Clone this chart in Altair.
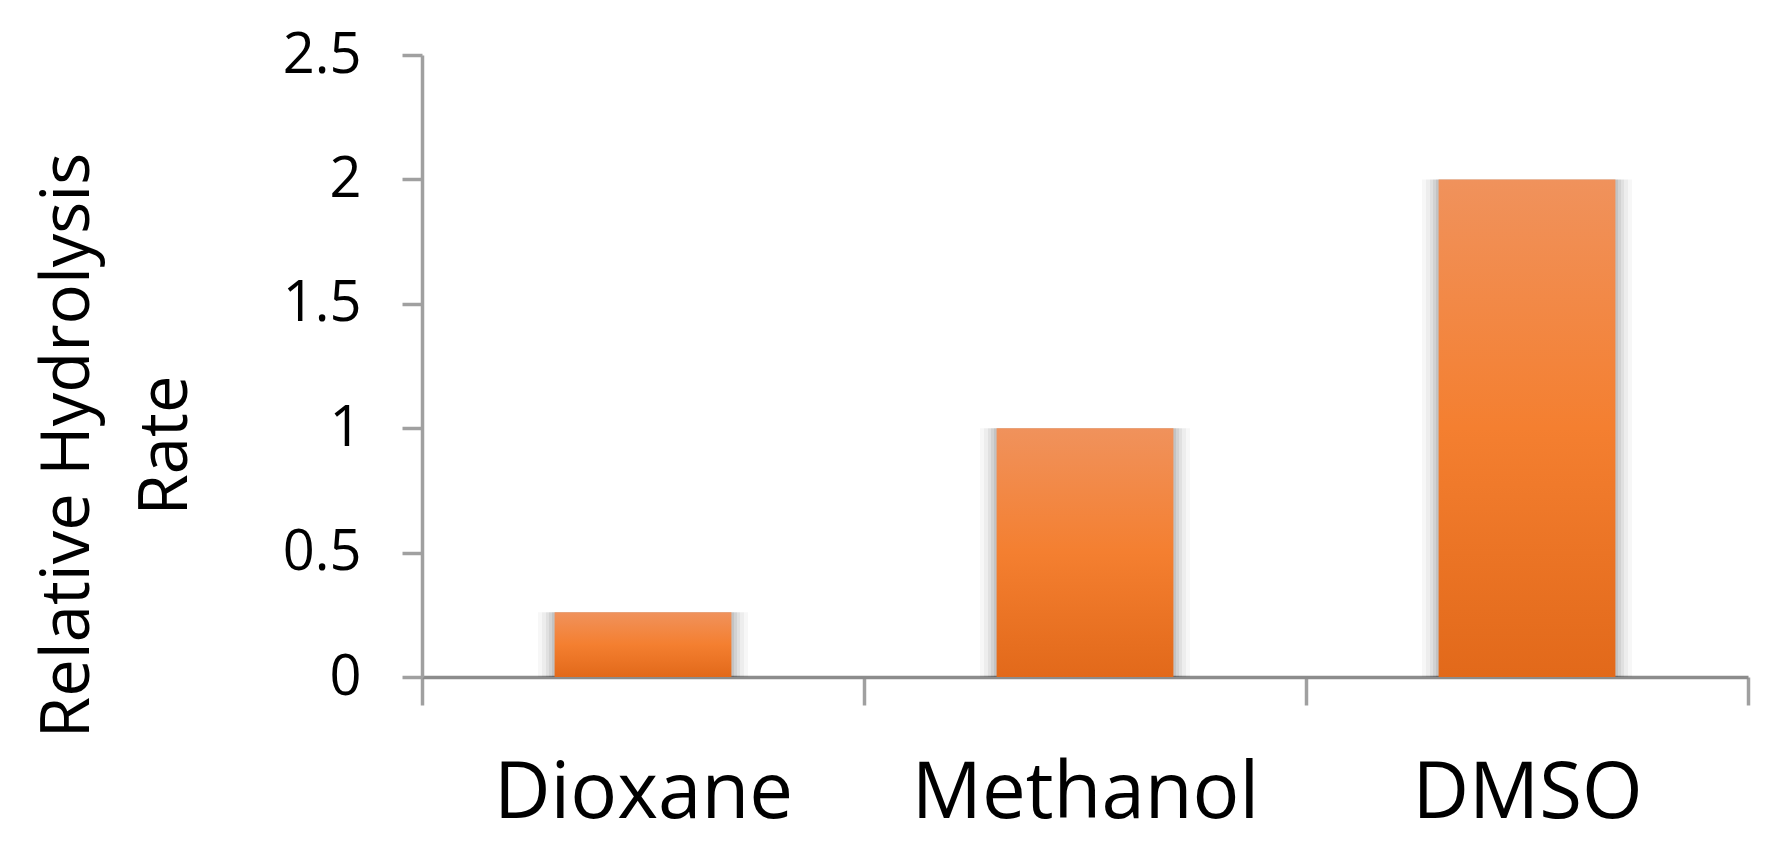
import altair as alt
import pandas as pd

categories = ["Dioxane", "Methanol", "DMSO"]
values = [0.26, 1.0, 2.0]
y_ticks = [0, 0.5, 1, 1.5, 2, 2.5]

df = pd.DataFrame({"solvent": categories, "rate": values})

FONT = "Open Sans"

x_enc = alt.X(
    "solvent:N",
    sort=categories,
    scale=alt.Scale(paddingInner=0, paddingOuter=0),
    axis=alt.Axis(
        title=None,
        labelAngle=0,
        labelFontSize=78,
        labelFont=FONT,
        labelColor="#000000",
        labelPadding=50,
        labelLimit=0,
        tickBand="extent",
        tickSize=28,
        tickWidth=3.5,
        tickColor="#a0a0a0",
        domainColor="#8c8c8c",
        domainWidth=3.5,
        grid=False,
    ),
)

y_enc = alt.Y(
    "rate:Q",
    scale=alt.Scale(domain=[0, 2.5], nice=False),
    axis=alt.Axis(
        values=y_ticks,
        format=".1~f",
        title=["Relative Hydrolysis", "Rate"],
        titleFont=FONT,
        titleFontSize=67,
        titleFontWeight="normal",
        titleColor="#000000",
        titleAngle=270,
        titleAlign="center",
        titleBaseline="middle",
        titleLineHeight=98,
        titleX=-354,
        titleY=390,
        labelFont=FONT,
        labelFontSize=56,
        labelColor="#000000",
        labelPadding=41,
        tickSize=20,
        tickWidth=3.5,
        tickColor="#a0a0a0",
        domainColor="#a0a0a0",
        domainWidth=3.5,
        grid=False,
    ),
)

base = alt.Chart(df)

shadows = [
    base.mark_bar(width=w, color="#000000", opacity=op).encode(x=x_enc, y=y_enc)
    for w, op in [(210, 0.03), (202, 0.04), (194, 0.05), (188, 0.06), (182, 0.07)]
]

gradient = alt.LinearGradient(
    gradient="linear",
    stops=[
        alt.GradientStop(color="#F0925C", offset=0),
        alt.GradientStop(color="#F47F30", offset=0.5),
        alt.GradientStop(color="#E2691A", offset=1),
    ],
    x1=0, x2=0, y1=0, y2=1,
)

bars = base.mark_bar(width=alt.RelativeBandSize(0.4), color=gradient).encode(
    x=x_enc, y=y_enc
)

chart = alt.layer(*shadows, bars).properties(
    width=1326,
    height=622,
    autosize=alt.AutoSizeParams(type="none"),
    padding={"left": 414, "top": 47, "right": 10, "bottom": 168},
    background="#ffffff",
).configure_view(stroke=None)

chart.save("out.html", embed_options={"renderer": "svg", "actions": False})
